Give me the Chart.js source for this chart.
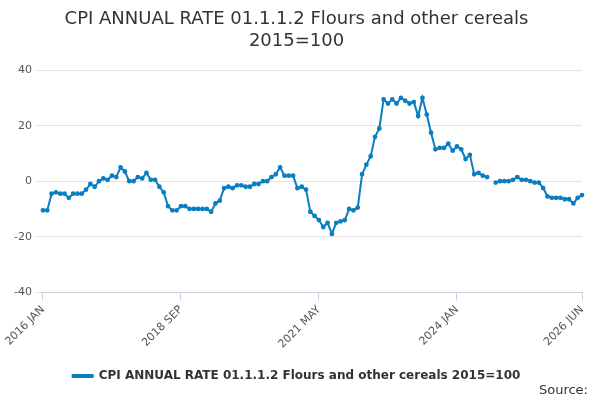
<!DOCTYPE html>
<html>
<head>
<meta charset="utf-8">
<script src="https://cdn.jsdelivr.net/npm/chart.js@4"></script>
<style>
  body { margin: 0; background: #fff; font-family: "DejaVu Sans", sans-serif; }
  #wrap { position: relative; width: 600px; height: 400px; }
  #source { position: absolute; right: 12px; bottom: 3px; font-size: 13px; color: #333; }
</style>
</head>
<body>
<div id="wrap">
  <canvas id="cpiChart" width="600" height="400"></canvas>
  <div id="source">Source:</div>
</div>
<script>
// months shown on the x axis
var years = [2016, 2017, 2018, 2019, 2020, 2021, 2022, 2023, 2024, 2025, 2026];
var monthNames = ["JAN", "FEB", "MAR", "APR", "MAY", "JUN", "JUL", "AUG", "SEP", "OCT", "NOV", "DEC"];
var shownTicks = ["2016 JAN", "2018 SEP", "2021 MAY", "2024 JAN", "2026 JUN"];

// annual rate (null = missing month)
var rate2016 = [-10.5, -10.5, -4.5, -4, -4.5, -4.5, -6, -4.5, -4.5, -4.5, -3, -1];
var rate2017 = [-2, 0, 1, 0.5, 2, 1.5, 5, 3.5, 0, 0, 1.5, 1];
var rate2018 = [3, 0.5, 0.5, -2, -4, -9, -10.5, -10.5, -9, -9, -10, -10];
var rate2019 = [-10, -10, -10, -11, -8, -7, -2.5, -2, -2.5, -1.5, -1.5, -2];
var rate2020 = [-2, -1, -1, 0, 0, 1.5, 2.5, 5, 2, 2, 2, -2.5];
var rate2021 = [-2, -3, -11, -12.5, -14, -16.5, -15, -19, -15, -14.5, -14, -10];
var rate2022 = [-10.5, -9.5, 2.5, 6, 9, 16, 19, 29.5, 28, 29.5, 28, 30];
var rate2023 = [29, 28, 28.5, 23.5, 30, 24, 17.5, 11.5, 12, 12, 13.5, 11];
var rate2024 = [12.5, 11.5, 8, 9.5, 2.5, 3, 2, 1.5, null, -0.5, 0, 0];
var rate2025 = [0, 0.5, 1.5, 0.5, 0.5, 0, -0.5, -0.5, -2.5, -5.5, -6, -6];
var rate2026 = [-6, -6.5, -6.5, -8, -6, -5];

var values = [].concat(rate2016, rate2017, rate2018, rate2019, rate2020, rate2021,
                       rate2022, rate2023, rate2024, rate2025, rate2026);

var labels = [];
for (var i = 0; i < values.length; i++) {
    labels.push(years[Math.floor(i / 12)] + " " + monthNames[i % 12]);
}

var seriesName = "CPI ANNUAL RATE 01.1.1.2 Flours and other cereals 2015=100";
var blue = "#0b7dc1";

new Chart("cpiChart", {
    type: "line",
    data: {
        labels: labels,
        datasets: [{
            label: seriesName,
            data: values,
            borderColor: blue,
            backgroundColor: blue,
            borderWidth: 2,
            pointRadius: 1.4,
            pointHoverRadius: 3,
            tension: 0,
            spanGaps: false
        }]
    },
    options: {
        responsive: false,
        animation: false,
        layout: { padding: { left: 11, right: 18, bottom: 8 } },
        scales: {
            x: {
                grid: {
                    drawOnChartArea: false,
                    color: "#c8d3e0",
                    tickLength: 8
                },
                border: { color: "#c8d3e0" },
                ticks: {
                    autoSkip: false,
                    maxRotation: 45,
                    minRotation: 45,
                    color: "#555",
                    font: { family: "DejaVu Sans", size: 11 },
                    callback: function (v) {
                        var l = labels[v];
                        return shownTicks.indexOf(l) >= 0 ? l : null;
                    }
                }
            },
            y: {
                min: -40,
                max: 40,
                ticks: {
                    stepSize: 20,
                    color: "#555",
                    font: { family: "DejaVu Sans", size: 11 }
                },
                grid: { color: "#e3e3e3" },
                border: { display: false }
            }
        },
        plugins: {
            title: {
                display: true,
                text: ["CPI ANNUAL RATE 01.1.1.2 Flours and other cereals", "2015=100"],
                color: "#333",
                font: { family: "DejaVu Sans", size: 18, weight: "normal" },
                padding: { top: 9, bottom: 18 }
            },
            legend: {
                position: "bottom",
                labels: {
                    color: "#333",
                    font: { family: "DejaVu Sans", size: 12, weight: "bold" },
                    boxWidth: 20,
                    boxHeight: 2,
                    padding: 16
                }
            },
            tooltip: { enabled: false }
        }
    }
});
</script>
</body>
</html>
